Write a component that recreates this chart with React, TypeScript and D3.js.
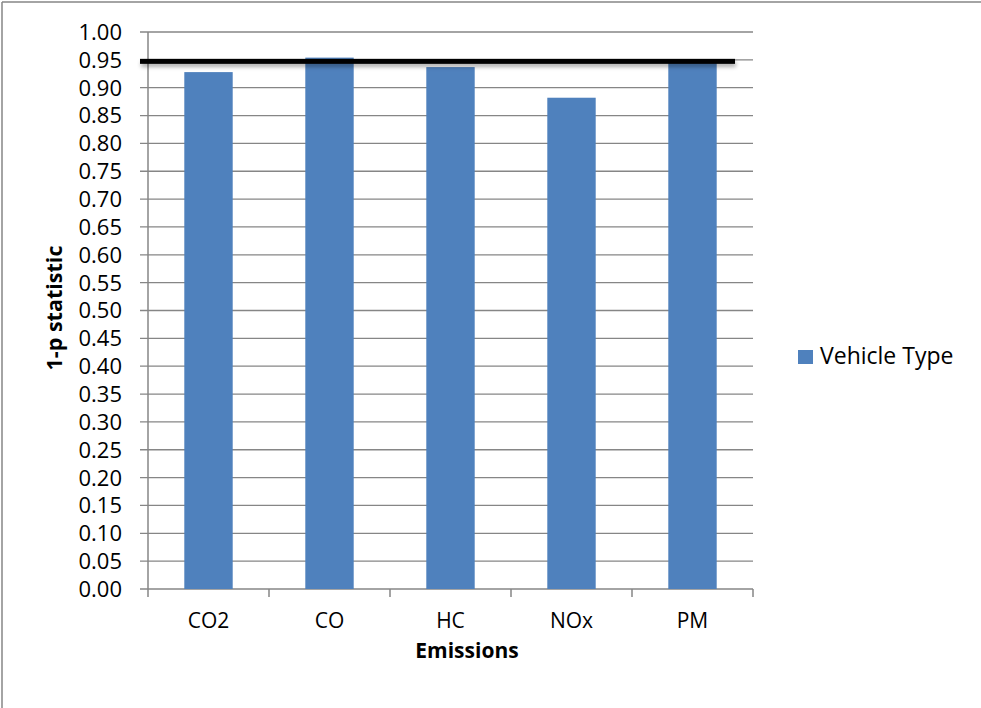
import React from "react";
import * as d3 from "d3";

const categories = ["CO2", "CO", "HC", "NOx", "PM"];
const values = [0.928, 0.954, 0.937, 0.882, 0.948];
const yTicks = d3.range(0, 21).map((i) => i * 0.05);
const threshold = 0.95;
const seriesName = "Vehicle Type";

const W = 981;
const H = 708;
const x0 = 148, x1 = 753;
const y0 = 589, y1 = 32;
const font = "'Open Sans', 'Liberation Sans', sans-serif";

export default function App() {
  const x = d3.scaleBand<string>().domain(categories).range([x0, x1]).paddingInner(0.6).paddingOuter(0.3);
  const xb = d3.scaleBand<string>().domain(categories).range([x0, x1]);
  const y = d3.scaleLinear().domain([0, 1]).range([y0, y1]);
  const gray = "#868686";
  return (
    <svg width={W} height={H} style={{ position: "absolute", left: 0, top: 0 }}>
      <rect x={0} y={0} width={W} height={H} fill="#fff" />
      <line x1={2} y1={2} x2={W} y2={2} stroke={gray} strokeWidth={1.5} />
      <line x1={2} y1={2} x2={2} y2={H} stroke={gray} strokeWidth={1.5} />
      <defs>
        <filter id="sh" filterUnits="userSpaceOnUse" x={100} y={30} width={700} height={60}>
          <feGaussianBlur in="SourceAlpha" stdDeviation="2" />
          <feOffset dx="1" dy="3" result="b" />
          <feComponentTransfer><feFuncA type="linear" slope="0.35" /></feComponentTransfer>
          <feMerge><feMergeNode /><feMergeNode in="SourceGraphic" /></feMerge>
        </filter>
      </defs>
      {yTicks.map((t, i) => (
        <g key={i}>
          <line x1={140} x2={x1} y1={y(t)} y2={y(t)} stroke={gray} strokeWidth={1.3} />
          <text x={122} y={y(t)} dy="0.36em" textAnchor="end" fontFamily={font} fontSize={22} fill="#000">
            {d3.format(".2f")(t)}
          </text>
        </g>
      ))}
      {categories.map((c, i) => (
        <rect key={c} x={x(c)} y={y(values[i])} width={x.bandwidth()} height={y(0) - y(values[i])} fill="#4F81BD" />
      ))}
      <line x1={x0} x2={x0} y1={y1} y2={y0} stroke={gray} strokeWidth={1.5} />
      {[...categories.map((c) => xb(c) as number), x1].map((p, i) => (
        <line key={i} x1={p} x2={p} y1={y0} y2={y0 + 8} stroke={gray} strokeWidth={1.5} />
      ))}
      {categories.map((c) => (
        <text key={c} x={(xb(c) as number) + xb.bandwidth() / 2} y={628} textAnchor="middle" fontFamily={font} fontSize={21} fill="#000">
          {c}
        </text>
      ))}
      <rect x={140} width={595} y={y(threshold) - 1} height={5} fill="#000" filter="url(#sh)" />
      <text x={467} y={658} textAnchor="middle" fontFamily={font} fontSize={21} fontWeight="bold" fill="#000">Emissions</text>
      <text transform={`translate(62,308) rotate(-90)`} textAnchor="middle" fontFamily={font} fontSize={21.5} fontWeight="bold" fill="#000">1-p statistic</text>
      <rect x={798} y={350} width={15} height={14} fill="#4F81BD" />
      <text x={820} y={364} fontFamily={font} fontSize={23} fill="#000">{seriesName}</text>
    </svg>
  );
}
